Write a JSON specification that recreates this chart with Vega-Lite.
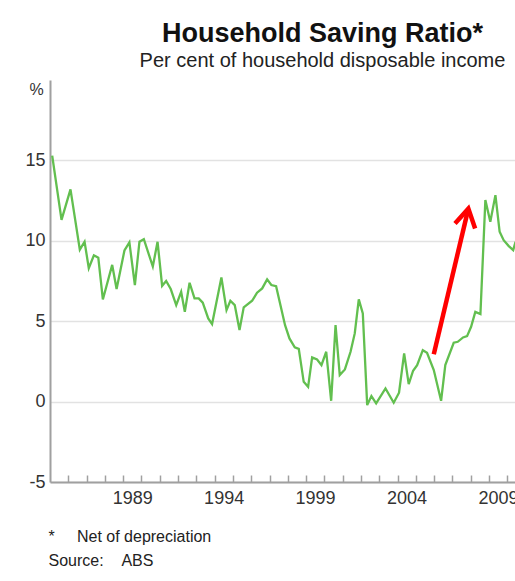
{
  "$schema": "https://vega.github.io/schema/vega-lite/v6.json",
  "autosize": {"type": "none"},
  "padding": {"left": 50, "top": 80, "right": 0, "bottom": 99},
  "width": 465,
  "height": 402,
  "background": "white",
  "config": {
    "view": {"stroke": null},
    "font": "Liberation Sans"
  },
  "title": {
    "text": "Household Saving Ratio*",
    "subtitle": "Per cent of household disposable income",
    "anchor": "middle",
    "dx": 40,
    "font": "Liberation Sans",
    "fontSize": 27,
    "fontWeight": "bold",
    "color": "#111111",
    "subtitleFont": "Liberation Sans",
    "subtitleFontSize": 20,
    "subtitleColor": "#222222",
    "subtitlePadding": 3,
    "offset": 8
  },
  "datasets": {
    "ratio": [
      {"year": 1985.12, "value": 15.3},
      {"year": 1985.63, "value": 11.3},
      {"year": 1986.12, "value": 13.2},
      {"year": 1986.63, "value": 9.45},
      {"year": 1986.89, "value": 9.94},
      {"year": 1987.12, "value": 8.3},
      {"year": 1987.4, "value": 9.1},
      {"year": 1987.64, "value": 8.95},
      {"year": 1987.89, "value": 6.35},
      {"year": 1988.4, "value": 8.5},
      {"year": 1988.64, "value": 7.0},
      {"year": 1989.07, "value": 9.4},
      {"year": 1989.34, "value": 9.9},
      {"year": 1989.64, "value": 7.25},
      {"year": 1989.89, "value": 9.94},
      {"year": 1990.13, "value": 10.1},
      {"year": 1990.62, "value": 8.4},
      {"year": 1990.88, "value": 9.94},
      {"year": 1991.13, "value": 7.2},
      {"year": 1991.35, "value": 7.5},
      {"year": 1991.6, "value": 7.0},
      {"year": 1991.9, "value": 6.0},
      {"year": 1992.17, "value": 6.83},
      {"year": 1992.37, "value": 5.58},
      {"year": 1992.63, "value": 7.39},
      {"year": 1992.9, "value": 6.42},
      {"year": 1993.13, "value": 6.42},
      {"year": 1993.35, "value": 6.15},
      {"year": 1993.65, "value": 5.17},
      {"year": 1993.86, "value": 4.82},
      {"year": 1994.37, "value": 7.72},
      {"year": 1994.65, "value": 5.69},
      {"year": 1994.86, "value": 6.27},
      {"year": 1995.1, "value": 6.0},
      {"year": 1995.36, "value": 4.45},
      {"year": 1995.59, "value": 5.86},
      {"year": 1996.05, "value": 6.27},
      {"year": 1996.32, "value": 6.77},
      {"year": 1996.6, "value": 7.04},
      {"year": 1996.87, "value": 7.6},
      {"year": 1997.1, "value": 7.25},
      {"year": 1997.36, "value": 7.18},
      {"year": 1997.85, "value": 4.75},
      {"year": 1998.09, "value": 3.93},
      {"year": 1998.38, "value": 3.37},
      {"year": 1998.6, "value": 3.28},
      {"year": 1998.87, "value": 1.23},
      {"year": 1999.11, "value": 0.92},
      {"year": 1999.33, "value": 2.75},
      {"year": 1999.6, "value": 2.62},
      {"year": 1999.84, "value": 2.27},
      {"year": 2000.1, "value": 3.1},
      {"year": 2000.37, "value": 0.05},
      {"year": 2000.61, "value": 4.76},
      {"year": 2000.84, "value": 1.65},
      {"year": 2001.12, "value": 2.0},
      {"year": 2001.43, "value": 3.1},
      {"year": 2001.66, "value": 4.24},
      {"year": 2001.88, "value": 6.36},
      {"year": 2002.1, "value": 5.48},
      {"year": 2002.34, "value": -0.22},
      {"year": 2002.57, "value": 0.34},
      {"year": 2002.83, "value": -0.11},
      {"year": 2003.34, "value": 0.82},
      {"year": 2003.79, "value": -0.07},
      {"year": 2004.08, "value": 0.55},
      {"year": 2004.36, "value": 3.0},
      {"year": 2004.61, "value": 1.09},
      {"year": 2004.85, "value": 1.92},
      {"year": 2005.07, "value": 2.27},
      {"year": 2005.38, "value": 3.2},
      {"year": 2005.61, "value": 3.04},
      {"year": 2005.98, "value": 1.96},
      {"year": 2006.38, "value": 0.05},
      {"year": 2006.61, "value": 2.27},
      {"year": 2007.07, "value": 3.66},
      {"year": 2007.29, "value": 3.72},
      {"year": 2007.58, "value": 3.99},
      {"year": 2007.8, "value": 4.07},
      {"year": 2008.02, "value": 4.65},
      {"year": 2008.25, "value": 5.58},
      {"year": 2008.53, "value": 5.44},
      {"year": 2008.8, "value": 12.53},
      {"year": 2009.07, "value": 11.18},
      {"year": 2009.35, "value": 12.84},
      {"year": 2009.58, "value": 10.56},
      {"year": 2009.8, "value": 10.04},
      {"year": 2010.08, "value": 9.67},
      {"year": 2010.32, "value": 9.42},
      {"year": 2010.45, "value": 9.94}
    ],
    "arrow": [
      {"part": "shaft", "seq": 1, "year": 2005.98, "value": 2.95},
      {"part": "shaft", "seq": 2, "year": 2007.87, "value": 12.0},
      {"part": "head", "seq": 1, "year": 2007.14, "value": 11.08},
      {"part": "head", "seq": 2, "year": 2007.87, "value": 12.0},
      {"part": "head", "seq": 3, "year": 2008.24, "value": 10.77}
    ]
  },
  "encoding": {
    "x": {
      "field": "year",
      "type": "quantitative",
      "scale": {"domain": [1985, 2010.42], "nice": false, "zero": false},
      "axis": {
        "values": [1986, 1987, 1988, 1989, 1990, 1991, 1992, 1993, 1994, 1995, 1996, 1997, 1998, 1999, 2000, 2001, 2002, 2003, 2004, 2005, 2006, 2007, 2008, 2009, 2010],
        "labelExpr": "(datum.value - 1989) % 5 == 0 ? '' + datum.value : ''",
        "labelOffset": 9,
        "labelOverlap": false,
        "labelFlush": false,
        "labelBound": false,
        "labelFont": "Liberation Sans",
        "labelFontSize": 18,
        "labelColor": "#333333",
        "labelPadding": 14,
        "grid": false,
        "domainColor": "#a0a0a0",
        "domainWidth": 2,
        "tickColor": "#a0a0a0",
        "tickWidth": 1.5,
        "tickSize": -7,
        "title": ["*\u00a0\u00a0\u00a0\u00a0\u00a0Net of depreciation", "Source:\u00a0\u00a0\u00a0\u00a0ABS"],
        "titleFont": "Liberation Sans",
        "titleFontSize": 16,
        "titleFontWeight": "normal",
        "titleColor": "#222222",
        "titleAnchor": "start",
        "titleAlign": "left",
        "titleBaseline": "alphabetic",
        "titleLineHeight": 24,
        "titleX": -2,
        "titleY": 59
      }
    },
    "y": {
      "field": "value",
      "type": "quantitative",
      "scale": {"domain": [-5, 20], "nice": false, "zero": false},
      "axis": {
        "values": [-5, 0, 5, 10, 15],
        "labelExpr": "'' + datum.value",
        "grid": true,
        "gridColor": "#e2e2e2",
        "gridWidth": 1.5,
        "ticks": false,
        "domainColor": "#a0a0a0",
        "domainWidth": 2,
        "labelFont": "Liberation Sans",
        "labelFontSize": 18,
        "labelColor": "#333333",
        "labelPadding": 5,
        "title": "%",
        "titleFont": "Liberation Sans",
        "titleFontSize": 16,
        "titleFontWeight": "normal",
        "titleColor": "#333333",
        "titleAngle": 0,
        "titleAlign": "center",
        "titleBaseline": "middle",
        "titleX": -14,
        "titleY": 9
      }
    }
  },
  "layer": [
    {
      "mark": {"type": "rule", "color": "#a0a0a0", "strokeWidth": 2},
      "encoding": {"y": {"datum": 20}, "x": null}
    },
    {
      "mark": {"type": "rule", "color": "#555555", "strokeWidth": 1.5},
      "encoding": {"y": {"datum": 0}, "x": null}
    },
    {
      "data": {"name": "ratio"},
      "mark": {"type": "line", "color": "#62bf4f", "strokeWidth": 2.3, "clip": true}
    },
    {
      "data": {"name": "arrow"},
      "mark": {"type": "line", "color": "#ff0000", "strokeWidth": 4.5, "strokeJoin": "miter", "strokeCap": "butt"},
      "encoding": {
        "detail": {"field": "part"},
        "order": {"field": "seq", "type": "quantitative"}
      }
    }
  ]
}
